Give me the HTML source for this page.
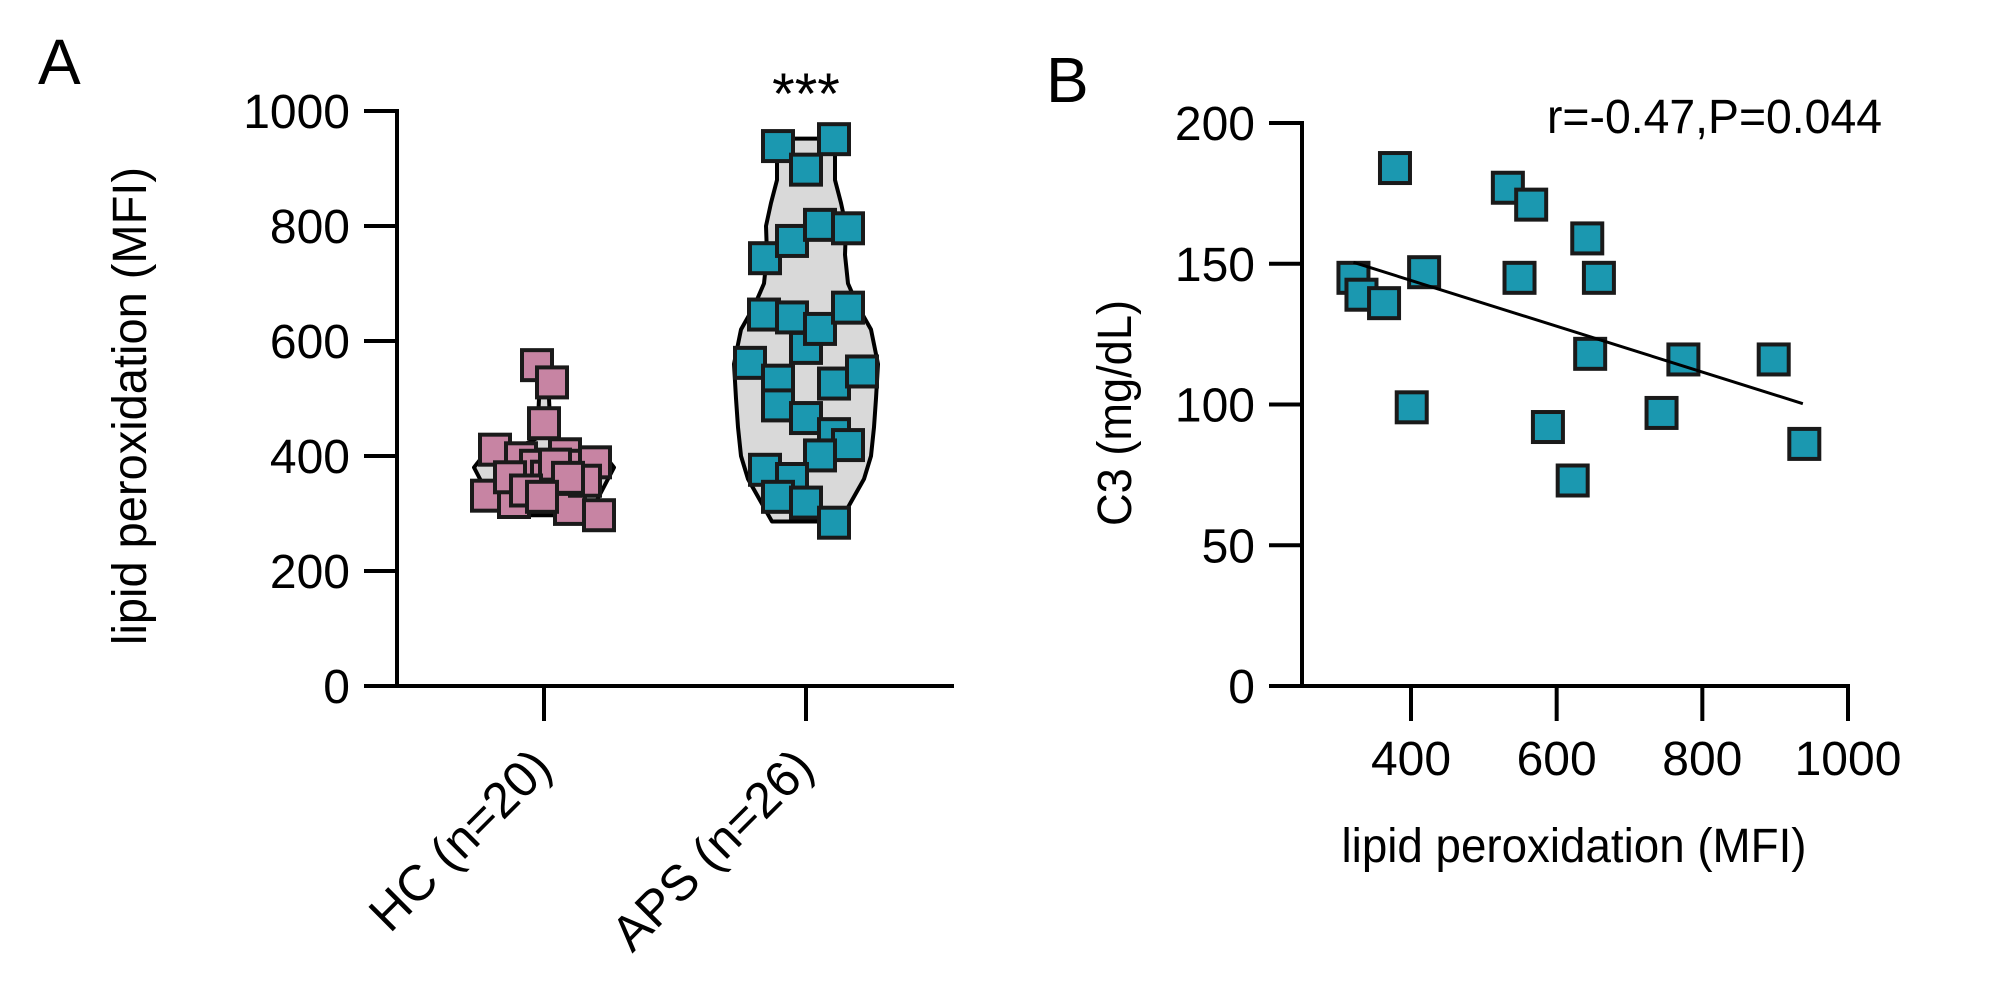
<!DOCTYPE html>
<html><head><meta charset="utf-8"><style>
html,body{margin:0;padding:0;background:#fff;}
svg{display:block;font-family:"Liberation Sans",Arial,sans-serif;}
</style></head><body>
<svg id="fig" width="2000" height="1007" viewBox="0 0 2000 1007"></svg>
<script>
// ---- Panel A data ----
const groupsA = ["HC (n=20)", "APS (n=26)"];
const hcValues = [558,528,457,411,396,383,403,383,389,331,320,308,297,357,364,363,385,362,340,329];
const hcJitter = [-7,8,0,-49,-23,-8,21,35,51,-57,-30,26,55,41,3,-34,11,24,-18,-2];
const apsValues = [939,951,898,744,774,802,796,646,641,588,621,658,562,531,488,466,526,547,438,419,401,376,360,329,319,284];
const apsJitter = [-28,28,0,-41,-14,14,42,-42,-14,0,14,42,-56,-28,-28,0,28,56,28,42,14,-41,-14,-28,0,28];
const hcViolinLevels = [297,320,350,380,400,410,430,460,500,540,558];
const hcViolinHalf = [35,52,61,70,61,32,8,6,5,4,0];
const apsViolinLevels = [286,320,360,400,450,500,560,620,660,700,750,800,840,880,910,952];
const apsViolinHalf = [34,45,58,65,68,70,72,65,52,42,39,40,35,29,29,29];
const yTicksA = [0,200,400,600,800,1000];
// ---- Panel B data ----
const scatterX = [378,321,332,363,418,401,533,565,549,642,658,646,588,622,744,774,898,940];
const scatterY = [184,145,139,136,147,99,177,171,145,159,145,118,92,73,97,116,116,86];
const fitX = [321,938];
const fitY = [150.5,100.3];
const xTicksB = [400,600,800,1000];
const yTicksB = [0,50,100,150,200];

const NS="http://www.w3.org/2000/svg";
const svg=document.getElementById('fig');
function mk(tag,attrs,parent){const e=document.createElementNS(NS,tag);for(const k in attrs)e.setAttribute(k,attrs[k]);(parent||svg).appendChild(e);return e;}
function txt(s,attrs,parent){const e=mk('text',attrs,parent);e.textContent=s;return e;}

const FS=48, SW=4;
const yA=v=>686-v*0.575;
const xA=i=>[544,806][i];
const xB=v=>1411+(v-400)*(437/600);
const yB=v=>686-v*(563/200);

const PINK="#c784a3", TEAL="#1b98b0";

// ---- Panel A ----
let t=txt('A',{x:38,y:84,'font-size':64,fill:'#000'});



function violin(levels,half,cx,name){
  let d='';
  for(let i=0;i<levels.length;i++){d+=(i?'L':'M')+(cx+half[i])+','+yA(levels[i]);}
  for(let i=levels.length-1;i>=0;i--){d+='L'+(cx-half[i])+','+yA(levels[i]);}
  d+='Z';
  const p=mk('path',{d:d,fill:'#d9d9d9',stroke:'#000','stroke-width':SW,'stroke-linejoin':'round'});
  
  
}
violin(hcViolinLevels,hcViolinHalf,xA(0),'hc-violin');
violin(apsViolinLevels,apsViolinHalf,xA(1),'aps-violin');

function sq(cx,cy,fill,name){
  const r=mk('rect',{x:cx-15,y:cy-15,width:30,height:30,fill:fill,stroke:'#1a1a1a','stroke-width':SW});
  
  
}
hcValues.forEach((v,i)=>sq(xA(0)+hcJitter[i],yA(v),PINK,'hc-point'));
apsValues.forEach((v,i)=>sq(xA(1)+apsJitter[i],yA(v),TEAL,'aps-point'));

let ax=mk('line',{x1:397,y1:yA(1000)-2,x2:397,y2:688,stroke:'#000','stroke-width':SW});


ax=mk('line',{x1:364,y1:686,x2:954,y2:686,stroke:'#000','stroke-width':SW});


yTicksA.forEach(v=>{
  const l=mk('line',{x1:364,y1:yA(v),x2:397,y2:yA(v),stroke:'#000','stroke-width':SW});
  
  
  const s=txt(String(v),{x:350,y:yA(v)+17,'font-size':FS,'text-anchor':'end'});
  
  
});
groupsA.forEach((g,i)=>{
  const l=mk('line',{x1:xA(i),y1:686,x2:xA(i),y2:721,stroke:'#000','stroke-width':SW});
  
  
  const ex=xA(i)+10, ey=770;
  const s=txt(g,{x:ex,y:ey,'font-size':50,'text-anchor':'end',transform:'rotate(-45 '+ex+' '+ey+')'});
  
  
});
t=txt('lipid peroxidation (MFI)',{x:146,y:406,'font-size':FS,'text-anchor':'middle',transform:'rotate(-90 146 406)',textLength:478,lengthAdjust:'spacingAndGlyphs'});


t=txt('***',{x:806,y:114,'font-size':58,'text-anchor':'middle'});



// ---- Panel B ----
t=txt('B',{x:1046,y:102,'font-size':64});


ax=mk('line',{x1:1302,y1:yB(200)-2,x2:1302,y2:688,stroke:'#000','stroke-width':SW});


ax=mk('line',{x1:1269,y1:686,x2:1850,y2:686,stroke:'#000','stroke-width':SW});


yTicksB.forEach(v=>{
  const l=mk('line',{x1:1269,y1:yB(v),x2:1302,y2:yB(v),stroke:'#000','stroke-width':SW});
  
  
  const s=txt(String(v),{x:1255,y:yB(v)+17,'font-size':FS,'text-anchor':'end'});
  
  
});
xTicksB.forEach(v=>{
  const l=mk('line',{x1:xB(v),y1:686,x2:xB(v),y2:721,stroke:'#000','stroke-width':SW});
  
  
  const s=txt(String(v),{x:xB(v),y:775,'font-size':FS,'text-anchor':'middle'});
  
  
});
scatterX.forEach((xv,i)=>sq(xB(xv),yB(scatterY[i]),TEAL,'scatter-point'));
let fl=mk('line',{x1:xB(fitX[0]),y1:yB(fitY[0]),x2:xB(fitX[1]),y2:yB(fitY[1]),stroke:'#000','stroke-width':3});


t=txt('r=-0.47,P=0.044',{x:1547,y:133,'font-size':FS,textLength:335,lengthAdjust:'spacingAndGlyphs'});


t=txt('lipid peroxidation (MFI)',{x:1574,y:862,'font-size':FS,'text-anchor':'middle',textLength:465,lengthAdjust:'spacingAndGlyphs'});


t=txt('C3 (mg/dL)',{x:1131,y:413,'font-size':FS,'text-anchor':'middle',transform:'rotate(-90 1131 413)',textLength:226,lengthAdjust:'spacingAndGlyphs'});


</script>
</body></html>
